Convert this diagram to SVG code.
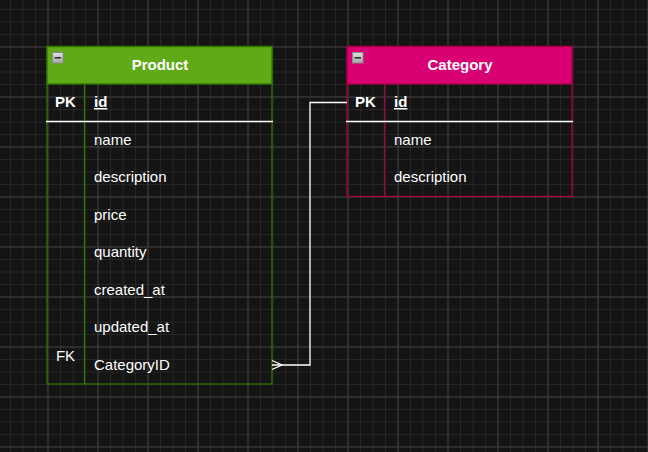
<svg xmlns="http://www.w3.org/2000/svg" width="648" height="452" viewBox="0 0 648 452">
<defs>
<pattern id="minor" x="-2.5" y="-3.5" width="12.5" height="12.5" patternUnits="userSpaceOnUse">
<path d="M0.5 0V12.5M0 0.5H12.5" stroke="#262626" stroke-width="1" fill="none"/>
</pattern>
<pattern id="major" x="-2.5" y="-3.5" width="50" height="50" patternUnits="userSpaceOnUse">
<path d="M0.5 0V50M0 0.5H50" stroke="#3c3c3c" stroke-width="1" fill="none"/>
</pattern>
<linearGradient id="btn" x1="0" y1="0" x2="0" y2="1">
<stop offset="0" stop-color="#e0e0e0"/>
<stop offset="1" stop-color="#a8a8a8"/>
</linearGradient>
<g id="minus">
<rect x="0.5" y="0.5" width="10.5" height="10.5" fill="url(#btn)" stroke="#8a8a8a" stroke-width="1"/>
<rect x="2.5" y="5" width="6.5" height="1.6" fill="#333"/>
</g>
</defs>
<style>
text{font-family:"Liberation Sans",Arial,sans-serif;font-size:15px;fill:#ffffff}
.hd{font-weight:bold;text-anchor:middle}
.k{font-weight:bold;text-anchor:middle}
.fk{text-anchor:middle}
.pk{font-weight:bold;text-decoration:underline}
.sep{stroke:#ffffff;stroke-width:1.5}
.conn{stroke:#ffffff;stroke-width:1.3;fill:none}
</style>
<rect width="648" height="452" fill="#141414"/>
<rect width="648" height="452" fill="url(#minor)"/>
<rect width="648" height="452" fill="url(#major)"/>

<g id="Product">
<rect x="47" y="46.5" width="225" height="337.5" fill="none" stroke="#2D7600" stroke-width="1.3"/>
<rect x="47" y="46.5" width="225" height="37.5" fill="#60a917" stroke="#2D7600" stroke-width="1.3"/>
<line x1="84.5" y1="84" x2="84.5" y2="384" stroke="#2D7600" stroke-width="1.3"/>
<line x1="46" y1="121.5" x2="273" y2="121.5" class="sep"/>
<use href="#minus" x="52" y="52"/>
<text x="160" y="69.5" class="hd">Product</text>
<text x="65.5" y="107" class="k">PK</text>
<text x="94" y="107" class="pk">id</text>
<text x="94" y="144.5">name</text>
<text x="94" y="182">description</text>
<text x="94" y="219.5">price</text>
<text x="94" y="257">quantity</text>
<text x="94" y="294.5">created_at</text>
<text x="94" y="332">updated_at</text>
<text x="65.5" y="361" class="fk">FK</text>
<text x="94" y="369.5">CategoryID</text>
</g>

<g id="Category">
<rect x="347" y="46.5" width="225" height="150" fill="none" stroke="#A50040" stroke-width="1.3"/>
<rect x="347" y="46.5" width="225" height="37.5" fill="#d80073" stroke="#A50040" stroke-width="1.3"/>
<line x1="384.5" y1="84" x2="384.5" y2="196.5" stroke="#A50040" stroke-width="1.3"/>
<line x1="346" y1="121.5" x2="573" y2="121.5" class="sep"/>
<use href="#minus" x="352" y="52"/>
<text x="460" y="69.5" class="hd">Category</text>
<text x="365.5" y="107" class="k">PK</text>
<text x="394" y="107" class="pk">id</text>
<text x="394" y="144.5">name</text>
<text x="394" y="182">description</text>
</g>

<g id="connectors">
<path class="conn" d="M272 365H310V102.5H347"/>
<path class="conn" d="M272 360.5L282 365L272 369.5"/>
</g>
</svg>
